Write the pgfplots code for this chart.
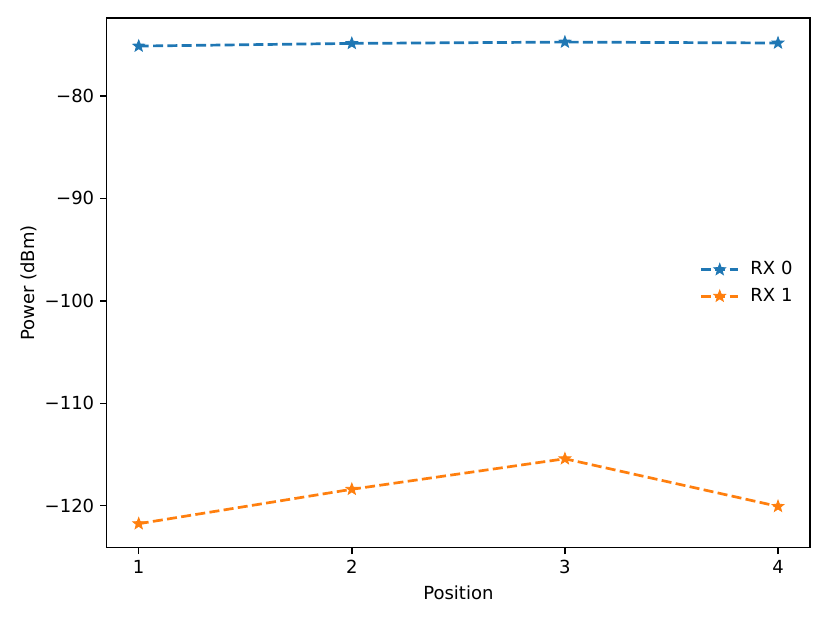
\documentclass[border=0pt]{standalone}
\usepackage{pgfplots}
\pgfplotsset{compat=1.18}
\usetikzlibrary{calc}
\usepackage{fontspec}
\setmainfont{DejaVu Sans}
\definecolor{c0}{HTML}{1F77B4}
\definecolor{c1}{HTML}{FF7F0E}
\pgfdeclareplotmark{fstar}{%
  \pgfpathmoveto{\pgfqpointpolar{90}{\pgfplotmarksize}}%
  \pgfpathlineto{\pgfqpointpolar{126}{0.42\pgfplotmarksize}}%
  \pgfpathlineto{\pgfqpointpolar{162}{\pgfplotmarksize}}%
  \pgfpathlineto{\pgfqpointpolar{198}{0.42\pgfplotmarksize}}%
  \pgfpathlineto{\pgfqpointpolar{234}{\pgfplotmarksize}}%
  \pgfpathlineto{\pgfqpointpolar{270}{0.42\pgfplotmarksize}}%
  \pgfpathlineto{\pgfqpointpolar{306}{\pgfplotmarksize}}%
  \pgfpathlineto{\pgfqpointpolar{342}{0.42\pgfplotmarksize}}%
  \pgfpathlineto{\pgfqpointpolar{18}{\pgfplotmarksize}}%
  \pgfpathlineto{\pgfqpointpolar{54}{0.42\pgfplotmarksize}}%
  \pgfpathclose
  \pgfusepathqfillstroke}
\begin{document}
\fontsize{13.5}{16}\selectfont
\begin{tikzpicture}
\begin{axis}[
  scale only axis,
  width=527pt, height=397pt,
  xmin=0.85, xmax=4.15,
  ymin=-124.11, ymax=-72.39,
  xtick={1,2,3,4},
  ytick={-120,-110,-100,-90,-80},
  tick align=outside,
  xtick pos=left, ytick pos=left,
  major tick length=4.7pt,
  every tick/.style={black, line width=1.08pt},
  axis line style={line width=1.08pt},
  /pgf/number format/assume math mode=true,
  ticklabel style={font=\fontsize{13.5}{16}\selectfont},
  yticklabel={\pgfmathtruncatemacro\v{-\tick}−\v},
  xlabel={Position},
  ylabel={Power (dBm)},
  ylabel style={yshift=-3pt},
  label style={font=\fontsize{13.5}{16}\selectfont},
  legend style={at={(0.985,0.5)}, anchor=east, draw=none, fill=none,
    font=\fontsize{13.5}{16}\selectfont, row sep=4pt,
    /tikz/every odd column/.append style={column sep=6pt}},
  legend cell align=left,
  legend image code/.code={%
    \draw[#1, dash pattern=on 7.5pt off 3.24pt, mark repeat=2, mark phase=2]
      plot coordinates {(0pt,0pt) (14pt,0pt) (28pt,0pt)};},
]
\addplot[c0, line width=2.03pt, dash pattern=on 7.5pt off 3.24pt, mark=fstar, mark size=4.6pt, mark options={solid, fill=c0, line width=0.6pt}]
  coordinates {(1,-75.13) (2,-74.87) (3,-74.74) (4,-74.83)};
\addlegendentry{RX 0}
\addplot[c1, line width=2.03pt, dash pattern=on 7.5pt off 3.24pt, mark=fstar, mark size=4.6pt, mark options={solid, fill=c1, line width=0.6pt}]
  coordinates {(1,-121.76) (2,-118.4) (3,-115.42) (4,-120.07)};
\addlegendentry{RX 1}
\end{axis}
\useasboundingbox ($(current axis.south west)+(-80pt,-57pt)$) rectangle ($(current axis.north east)+(15pt,13.5pt)$);
\end{tikzpicture}
\end{document}
